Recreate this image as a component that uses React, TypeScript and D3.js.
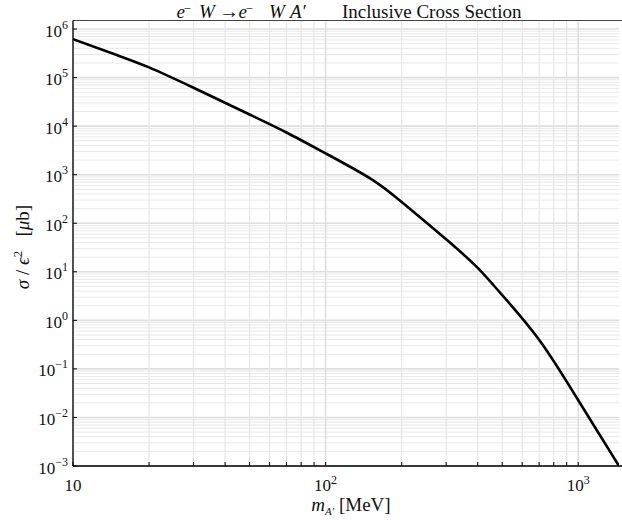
import React from 'react';
import * as d3 from 'd3';

// Data (m_A' in MeV, sigma/eps^2 in microbarn)
const massMeV = [10, 15, 20, 30, 50, 70, 100, 150, 200, 300, 400, 500, 700, 1000, 1450];
const sigmaMicroBarn = [6.17e5, 2.88e5, 1.62e5, 6.17e4, 1.74e4, 7.41e3, 2750, 841, 275, 46.8, 12.0, 3.31, 0.398, 0.0226, 0.001];

const xMajorTicks = [10, 100, 1000];
const xMajorLabels = [
  { base: '10', exp: '' },
  { base: '10', exp: '2' },
  { base: '10', exp: '3' },
];
const yExponents = [-3, -2, -1, 0, 1, 2, 3, 4, 5, 6];

const W = 622;
const H = 520;
const M = { left: 73, right: 3, top: 20.5, bottom: 54 };
const FONT = "'Liberation Serif', 'Times New Roman', serif";

export default function App() {
  const x = d3.scaleLog().domain([10, 1450]).range([M.left, W - M.right]);
  const y = d3.scaleLog().domain([1e-3, 1.5e6]).range([H - M.bottom, M.top]);

  const xMinor: number[] = [];
  for (const d of [10, 100, 1000]) for (let k = 1; k <= 9; k++) {
    const v = d * k;
    if (v >= 10 && v <= 1450) xMinor.push(v);
  }
  const yMinor: number[] = [];
  for (let e = -3; e <= 6; e++) for (let k = 1; k <= 9; k++) {
    const v = k * Math.pow(10, e);
    if (v >= 1e-3 && v <= 1.5e6) yMinor.push(v);
  }

  const line = d3
    .line<number>()
    .x((_, i) => x(massMeV[i]))
    .y((d) => y(d))
    .curve(d3.curveNatural);

  const x0 = M.left;
  const x1 = W - M.right;
  const y0 = H - M.bottom;
  const y1 = M.top;

  return (
    <svg width={W} height={H} style={{ position: 'absolute', left: 0, top: 0, background: '#fff' }} fontFamily={FONT}>
      <rect x={0} y={0} width={W} height={H} fill="#fff" />
      <defs>
        <clipPath id="plot">
          <rect x={x0} y={y1} width={x1 - x0} height={y0 - y1} />
        </clipPath>
      </defs>
      {/* grid */}
      <g>
        {yMinor.map((v, i) => {
          const major = Math.abs(Math.log10(v) - Math.round(Math.log10(v))) < 1e-9;
          return (
            <line key={'gy' + i} x1={x0} x2={x1} y1={y(v)} y2={y(v)}
              stroke={major ? '#dedede' : '#e8e8e8'} strokeWidth={major ? 1.6 : 1} />
          );
        })}
        {xMinor.map((v, i) => {
          const major = Math.abs(Math.log10(v) - Math.round(Math.log10(v))) < 1e-9;
          return (
            <line key={'gx' + i} x1={x(v)} x2={x(v)} y1={y1} y2={y0}
              stroke={major ? '#dedede' : '#e6e6e6'} strokeWidth={major ? 1.6 : 1.2} />
          );
        })}
      </g>
      {/* curve */}
      <path d={line(sigmaMicroBarn) || ''} fill="none" stroke="#000" strokeWidth={2.6} clipPath="url(#plot)" strokeLinejoin="round" />
      {/* frame */}
      <line x1={x0} x2={x1 + 3} y1={y1} y2={y1} stroke="#444" strokeWidth={1} />
      <line x1={x0} x2={x0} y1={y1} y2={y0} stroke="#000" strokeWidth={1.3} />
      <line x1={x0} x2={W} y1={y0} y2={y0} stroke="#000" strokeWidth={1.3} />
      {/* x ticks */}
      {xMinor.map((v, i) => (
        <line key={'tx' + i} x1={x(v)} x2={x(v)} y1={y0} y2={y0 - 4} stroke="#000" strokeWidth={1} />
      ))}
      {yExponents.map((e) => (
        <line key={'ty' + e} x1={x0} x2={x0 + 4} y1={y(Math.pow(10, e))} y2={y(Math.pow(10, e))} stroke="#000" strokeWidth={1} />
      ))}
      {/* x tick labels */}
      {xMajorTicks.map((v, i) => (
        <text key={'lx' + i} x={x(v)} y={y0 + 25} fontSize={17} textAnchor="middle" fill="#111">
          {xMajorLabels[i].base}
          {xMajorLabels[i].exp && (
            <tspan dy={-7} fontSize={12}>{xMajorLabels[i].exp}</tspan>
          )}
        </text>
      ))}
      {/* y tick labels */}
      {yExponents.map((e) => (
        <text key={'ly' + e} x={x0 - 5} y={y(Math.pow(10, e)) + 7.5} fontSize={17} textAnchor="end" fill="#111">
          10
          <tspan dy={-8} fontSize={12}>{e < 0 ? '\u2212' + Math.abs(e) : String(e)}</tspan>
        </text>
      ))}
      {/* title */}
      <text y={18} fontSize={19} fill="#111">
        <tspan x={176.5} fontStyle="italic">e</tspan>
        <tspan x={183.5} dy={-5.5} fontSize={13}>{'\u2212'}</tspan>
        <tspan x={199} dy={5.5} fontStyle="italic">W</tspan>
        <tspan x={219} fontSize={20}>{'\u2192'}</tspan>
        <tspan x={238.5} fontStyle="italic">e</tspan>
        <tspan x={245.5} dy={-5.5} fontSize={13}>{'\u2212'}</tspan>
        <tspan x={269} dy={5.5} fontStyle="italic">W</tspan>
        <tspan x={290} fontStyle="italic">{'A\u2032'}</tspan>
      </text>
      <text x={342} y={18} fontSize={19} fill="#111">Inclusive Cross Section</text>
      {/* x axis label */}
      <text x={351} y={511} fontSize={19} textAnchor="middle" fill="#111" style={{ whiteSpace: 'pre' }}>
        <tspan fontStyle="italic">m</tspan>
        <tspan dy={4} fontSize={11} fontStyle="italic">{'A\u2032'}</tspan>
        <tspan dy={-4}>{' [MeV]'}</tspan>
      </text>
      {/* y axis label */}
      <text transform="translate(29,247) rotate(-90)" fontSize={19} textAnchor="middle" fill="#111" style={{ whiteSpace: 'pre' }}>
        <tspan fontStyle="italic">{'\u03C3'}</tspan>
        <tspan>{' / '}</tspan>
        <tspan fontStyle="italic">{'\u03F5'}</tspan>
        <tspan dy={-7} fontSize={13}>2</tspan>
        <tspan dy={7}>{'   ['}</tspan>
        <tspan fontStyle="italic">{'\u03BC'}</tspan>
        <tspan>b]</tspan>
      </text>
    </svg>
  );
}
